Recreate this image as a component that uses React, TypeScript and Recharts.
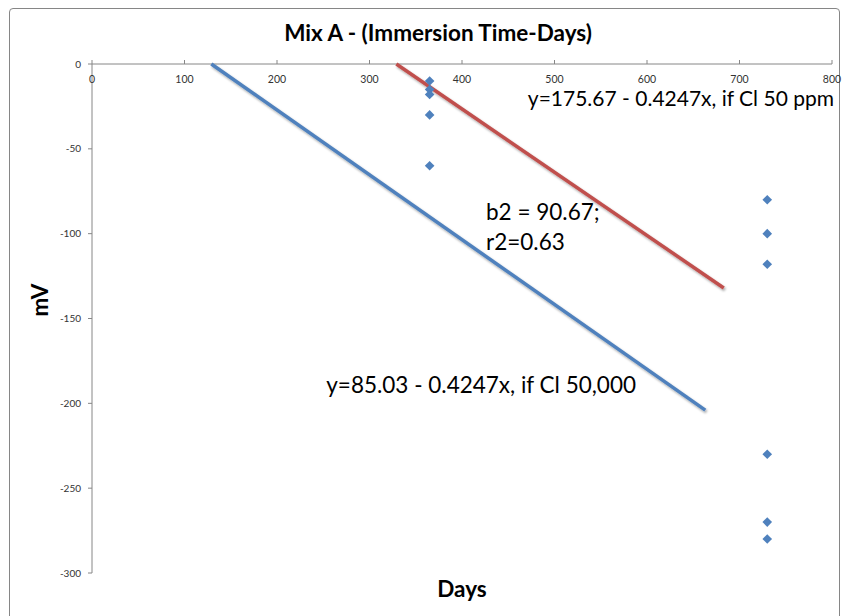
import React from "react";
import { ScatterChart, Scatter, XAxis, YAxis } from "recharts";

const dayTicks = [0, 100, 200, 300, 400, 500, 600, 700, 800];
const mvTicks = [0, -50, -100, -150, -200, -250, -300];

// measured potentials after 1 and 2 years of immersion
const year1Days = [365, 365, 365, 365, 365];
const year1Mv = [-10, -15, -18, -30, -60];
const year2Days = [730, 730, 730, 730, 730, 730];
const year2Mv = [-80, -100, -118, -230, -270, -280];

// fitted lines as drawn on the chart
const lowClDays = [329, 683];
const lowClMv = [0, -132];
const highClDays = [129, 663];
const highClMv = [0, -204];

const zip = (xs: number[], ys: number[]) => xs.map((x, i) => ({ x, y: ys[i] }));

const points = [...zip(year1Days, year1Mv), ...zip(year2Days, year2Mv)];
const lowClLine = zip(lowClDays, lowClMv);
const highClLine = zip(highClDays, highClMv);

const FONT = "Lato, 'Open Sans', sans-serif";
const AXIS = "#868686";
const BLUE = "#4F81BD";
const RED = "#C0504D";

const Diamond = (props: any) => {
  const { cx, cy } = props;
  const r = 4.8;
  return (
    <path
      d={`M${cx},${cy - r}L${cx + r},${cy}L${cx},${cy + r}L${cx - r},${cy}Z`}
      fill={BLUE}
    />
  );
};

const NoMarker = () => <g />;

// x labels sit under the axis line although the axis is on top
const DayTick = (props: any) => {
  const { x, y, payload } = props;
  return (
    <text x={x} y={y + 23} textAnchor="middle" fontSize={10.5} fill="#333" fontFamily={FONT}>
      {payload.value}
    </text>
  );
};

export default function App() {
  return (
    <div
      style={{
        position: "absolute",
        left: 0,
        top: 0,
        width: 842,
        height: 616,
        background: "#fff",
        overflow: "hidden",
        fontFamily: FONT,
      }}
    >
      <svg width={0} height={0} style={{ position: "absolute" }}>
        <defs>
          <filter id="lineShadow" x="-10%" y="-10%" width="120%" height="120%">
            <feDropShadow dx={1.2} dy={1.8} stdDeviation={1} floodColor="#000" floodOpacity={0.35} />
          </filter>
        </defs>
      </svg>
      <div
        style={{
          position: "absolute",
          left: 9,
          top: 8,
          width: 831,
          height: 640,
          border: "1px solid #868686",
          borderRadius: 4,
          boxSizing: "border-box",
        }}
      />
      <ScatterChart
        width={842}
        height={616}
        margin={{ top: 44, right: 10, bottom: 43, left: 0 }}
        style={{ position: "absolute", left: 0, top: 0 }}
      >
        <XAxis
          type="number"
          dataKey="x"
          orientation="top"
          height={20}
          domain={[0, 800]}
          ticks={dayTicks}
          tickSize={4}
          tickMargin={0}
          axisLine={{ stroke: AXIS }}
          tickLine={{ stroke: AXIS }}
          tick={<DayTick />}
          interval={0}
        />
        <YAxis
          type="number"
          dataKey="y"
          width={92}
          domain={[-300, 0]}
          ticks={mvTicks}
          tickSize={4}
          tickMargin={7}
          axisLine={{ stroke: AXIS }}
          tickLine={{ stroke: AXIS }}
          tick={{ fontSize: 10, fill: "#333", fontFamily: FONT }}
          interval={0}
        />
        <Scatter
          data={highClLine}
          fill={BLUE}
          line={{ stroke: BLUE, strokeWidth: 3.5, filter: "url(#lineShadow)" }}
          shape={<NoMarker />}
          isAnimationActive={false}
        />
        <Scatter
          data={lowClLine}
          fill={RED}
          line={{ stroke: RED, strokeWidth: 3.5, filter: "url(#lineShadow)" }}
          shape={<NoMarker />}
          isAnimationActive={false}
        />
        <Scatter data={points} fill={BLUE} shape={<Diamond />} isAnimationActive={false} />
      </ScatterChart>
      <svg
        width={842}
        height={616}
        style={{ position: "absolute", left: 0, top: 0, pointerEvents: "none" }}
        fontFamily={FONT}
      >
        <text x={438} y={41} textAnchor="middle" fontSize={22.5} fontWeight={700} fill="#000">
          Mix A - (Immersion Time-Days)
        </text>
        <text x={462} y={597} textAnchor="middle" fontSize={22.5} fontWeight={700} fill="#000">
          Days
        </text>
        <text
          x={0}
          y={0}
          transform="translate(48 300) rotate(-90)"
          textAnchor="middle"
          fontSize={22.5}
          fontWeight={700}
          fill="#000"
        >
          mV
        </text>
        <text x={834} y={106} textAnchor="end" fontSize={21} fill="#000">
          y=175.67 - 0.4247x, if Cl 50 ppm
        </text>
        <text x={486} y={220} fontSize={22.5} fill="#000">
          b2 = 90.67;
        </text>
        <text x={486} y={250} fontSize={22.5} fill="#000">
          r2=0.63
        </text>
        <text x={636} y={393} textAnchor="end" fontSize={22.5} fill="#000">
          y=85.03 - 0.4247x, if Cl 50,000
        </text>
      </svg>
    </div>
  );
}
